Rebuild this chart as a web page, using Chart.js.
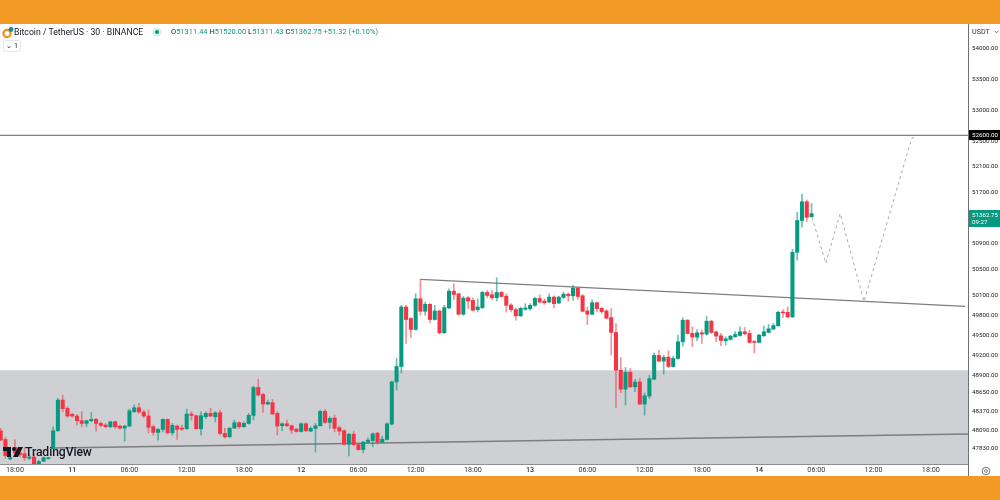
<!DOCTYPE html>
<html>
<head>
<meta charset="utf-8">
<title>Bitcoin / TetherUS</title>
<script src="https://cdn.jsdelivr.net/npm/chart.js@4/dist/chart.umd.min.js"></script>
<style>
  html, body { margin: 0; padding: 0; background: #fff; }
  #page { position: relative; width: 1000px; height: 500px; overflow: hidden; background: #fff; font-family: Roboto, sans-serif; }
  #page canvas { position: absolute; left: 0; top: 0; }
  .band { position: absolute; left: 0; width: 1000px; background: #f19a26; }
  .txt { position: absolute; white-space: nowrap; }
  #title { left: 14px; top: 26px; font-size: 8.7px; line-height: 12px; color: #131722; }
  #ohlc { left: 171px; top: 26px; font-size: 7.4px; line-height: 12px; color: #089981; letter-spacing: 0.05px; }
  #ohlc b { font-weight: 400; color: #131722; }
  #btn { left: 3px; top: 40px; width: 16px; height: 10px; border: 1px solid #e6e7ea; border-radius: 2px; font-size: 7px; line-height: 10px; text-align: center; color: #131722; }
  #usdt { left: 972px; top: 26px; font-size: 7.2px; line-height: 12px; color: #333; }
  #tv { left: 25px; top: 444px; font-size: 12.2px; line-height: 16px; font-weight: 500; color: #131722; letter-spacing: -0.1px; }
</style>
</head>
<body>
<div id="page">
  <canvas id="candleChart" width="1000" height="500"></canvas>
  <div class="band" style="top:0;height:24px"></div>
  <div class="band" style="top:476px;height:24px"></div>

  <svg class="txt" style="left:2px;top:26px" width="12" height="13">
    <circle cx="5" cy="7.5" r="3.6" fill="none" stroke="#f0901e" stroke-width="2.2"/>
    <circle cx="9" cy="3.5" r="2.4" fill="#1d8a93"/>
  </svg>
  <div class="txt" id="title">Bitcoin / TetherUS · 30 · BINANCE</div>
  <svg class="txt" style="left:152px;top:27px" width="10" height="10">
    <circle cx="5" cy="5" r="4.5" fill="#d5efe9"/>
    <circle cx="5" cy="5" r="2" fill="#089981"/>
  </svg>
  <div class="txt" id="ohlc"><b>O</b>51311.44 <b>H</b>51520.00 <b>L</b>51311.43 <b>C</b>51362.75 +51.32 (+0.10%)</div>
  <div class="txt" id="btn">⌄ 1</div>
  <div class="txt" id="usdt">USDT</div>
  <svg class="txt" style="left:994px;top:30px" width="5" height="4">
    <path d="M0.5 0.8 L2.5 2.8 L4.5 0.8" fill="none" stroke="#555" stroke-width="0.8"/>
  </svg>

  <svg class="txt" style="left:3px;top:446px" width="21" height="13">
    <path d="M0 1 H8 V11 H4 V5 H0 Z" fill="#131722"/>
    <circle cx="11" cy="3" r="2" fill="#131722"/>
    <path d="M15 1 H20 L15 11 H10 Z" fill="#131722"/>
  </svg>
  <div class="txt" id="tv">TradingView</div>

  <svg class="txt" style="left:981px;top:466px" width="10" height="10">
    <circle cx="5" cy="5" r="3.8" fill="none" stroke="#555" stroke-width="0.8"/>
    <circle cx="5" cy="5" r="1.4" fill="none" stroke="#555" stroke-width="0.7"/>
  </svg>
</div>

<script>
// candles, 30 minute bars. index 0 is the 18:00 bar of the 10th
const firstCandle = -3;
const opens = [
  48081, 47954, 47670, 47840, 47760, 47748, 47680, 47700, 47601, 47640,
  47675, 47822, 48081, 48532, 48410, 48321, 48297, 48228, 48189, 48228,
  48248, 48189, 48165, 48140, 48213, 48150, 48120, 48150, 48360, 48419,
  48356, 48297, 48140, 48057, 48101, 48248, 48052, 48150, 48116, 48111,
  48326, 48302, 48111, 48287, 48336, 48287, 48346, 48042, 47993, 48120,
  48199, 48140, 48189, 48307, 48718, 48615, 48473, 48493, 48336, 48155,
  48184, 48155, 48106, 48071, 48184, 48076, 48116, 48155, 48366, 48204,
  48268, 48125, 48081, 47885, 48032, 47880, 47807, 47915, 47939, 48047,
  47915, 47954, 48179, 48800, 49030, 49925, 49750, 49585, 50050, 49860,
  49965, 49735, 49865, 49535, 49910, 50166, 50125, 49815, 50065, 50025,
  49885, 49915, 50146, 50110, 50065, 50146, 50090, 49955, 49885, 49790,
  49890, 49900, 49950, 50055, 50015, 50000, 50075, 49985, 50070, 50120,
  50095, 50212, 50095, 49865, 49815, 49990, 49905, 49865, 49765, 49540,
  48975, 48694, 48944, 48728, 48800, 48473, 48591, 48840, 49195, 49110,
  49170, 49030, 49150, 49400, 49725, 49525, 49470, 49535, 49515, 49710,
  49550, 49490, 49415, 49435, 49475, 49495, 49550, 49525, 49400, 49390,
  49490, 49540, 49590, 49640, 49845, 49845, 49775, 50762, 51255, 51548, 51311.44,
];
const highs = [
  48116, 47983, 47700, 47954, 47790, 47836, 47730, 47740, 47650, 47700,
  47695, 48140, 48556, 48606, 48434, 48340, 48321, 48360, 48238, 48350,
  48262, 48213, 48189, 48223, 48223, 48160, 48160, 48400, 48458, 48483,
  48385, 48385, 48165, 48116, 48255, 48255, 48189, 48165, 48165, 48400,
  48360, 48312, 48360, 48360, 48410, 48360, 48385, 48116, 48125, 48238,
  48213, 48213, 48336, 48738, 48841, 48630, 48532, 48542, 48360, 48199,
  48238, 48165, 48116, 48199, 48199, 48140, 48189, 48385, 48395, 48287,
  48312, 48150, 48100, 48042, 48076, 47895, 47929, 47978, 48052, 48057,
  48003, 48199, 48815, 49155, 49950, 49950, 49765, 50125, 50346, 50000,
  49975, 49950, 49875, 49950, 50202, 50278, 50135, 50085, 50085, 50065,
  50050, 50165, 50176, 50176, 50370, 50165, 50125, 49975, 49910, 49925,
  49975, 49975, 50075, 50110, 50050, 50125, 50095, 50090, 50150, 50140,
  50253, 50225, 50115, 49925, 50035, 50000, 49915, 49885, 49900, 49675,
  49165, 49015, 49000, 48840, 48850, 48640, 48900, 49235, 49275, 49200,
  49265, 49185, 49500, 49760, 49735, 49625, 49585, 49575, 49785, 49725,
  49560, 49525, 49475, 49500, 49550, 49625, 49615, 49575, 49420, 49510,
  49635, 49660, 49675, 49860, 49885, 49925, 50808, 51383, 51670, 51578, 51520,
];
const lows = [
  47940, 47680, 47660, 47700, 47700, 47650, 47660, 47595, 47595, 47630,
  47670, 47815, 48075, 48360, 48277, 48280, 48165, 48140, 48140, 48213,
  48076, 48140, 48125, 48125, 48116, 48106, 47929, 48140, 48350, 48336,
  48277, 48052, 48017, 47944, 48066, 48032, 48017, 47954, 48081, 48101,
  48238, 48101, 48017, 48262, 48287, 48213, 48017, 47978, 47983, 48111,
  48116, 48130, 48179, 48238, 48591, 48350, 48468, 48326, 48017, 48081,
  48140, 48042, 48060, 48060, 48070, 48070, 47772, 48150, 48190, 48116,
  48066, 48017, 47871, 47714, 47861, 47797, 47758, 47895, 47846, 47885,
  47910, 47945, 48165, 48680, 48935, 49375, 49465, 49575, 49800, 49800,
  49685, 49725, 49515, 49525, 49895, 50035, 49800, 49800, 49900, 49865,
  49850, 49900, 50065, 50035, 50015, 50075, 49850, 49850, 49725, 49780,
  49875, 49875, 49935, 49985, 49965, 49990, 49910, 49975, 50055, 50010,
  50025, 50040, 49850, 49660, 49805, 49850, 49825, 49745, 49200, 48424,
  48640, 48458, 48718, 48655, 48465, 48311, 48556, 48835, 49100, 48915,
  49015, 49020, 49140, 49335, 49515, 49325, 49415, 49375, 49500, 49525,
  49400, 49340, 49350, 49425, 49465, 49485, 49505, 49380, 49235, 49385,
  49480, 49535, 49585, 49635, 49765, 49760, 49765, 50640, 51152, 51240, 51311.43,
];
const closes = [
  47944, 47720, 47690, 47760, 47730, 47689, 47700, 47601, 47635, 47689,
  47689, 48081, 48532, 48405, 48297, 48297, 48228, 48189, 48228, 48248,
  48189, 48160, 48140, 48213, 48140, 48120, 48150, 48375, 48419, 48356,
  48297, 48130, 48057, 48101, 48248, 48052, 48160, 48101, 48106, 48326,
  48307, 48111, 48302, 48336, 48297, 48346, 48042, 47993, 48120, 48199,
  48140, 48189, 48307, 48718, 48606, 48473, 48498, 48326, 48150, 48184,
  48155, 48091, 48071, 48184, 48081, 48116, 48155, 48366, 48204, 48262,
  48116, 48076, 47885, 48032, 47880, 47807, 47915, 47944, 48037, 47915,
  47959, 48184, 48800, 49030, 49925, 49735, 49585, 50050, 49860, 49965,
  49735, 49865, 49535, 49915, 50166, 50115, 49815, 50060, 50015, 49875,
  49925, 50146, 50100, 50065, 50146, 50085, 49950, 49885, 49790, 49905,
  49910, 49950, 50055, 50000, 49990, 50075, 49975, 50075, 50120, 50095,
  50212, 50085, 49860, 49815, 49990, 49900, 49855, 49755, 49540, 48975,
  48694, 48944, 48728, 48797, 48473, 48596, 48850, 49195, 49110, 49165,
  49030, 49150, 49400, 49725, 49525, 49470, 49535, 49515, 49710, 49540,
  49485, 49420, 49445, 49485, 49510, 49550, 49520, 49390, 49390, 49500,
  49550, 49595, 49645, 49845, 49835, 49775, 50762, 51255, 51548, 51305, 51362.75,
];

// axis ticks
const timeTicks = [0, 12, 24, 36, 48, 60, 72, 84, 96, 108, 120, 132, 144, 156, 168, 180, 192];
const timeLabels = ["18:00", "11", "06:00", "12:00", "18:00", "12", "06:00", "12:00", "18:00", "13", "06:00", "12:00", "18:00", "14", "06:00", "12:00", "18:00"];
const priceTicks = [54000, 53500, 53000, 52500, 52100, 51700, 51300, 50900, 50500, 50100, 49800, 49500, 49200, 48900, 48650, 48370, 48090, 47830];

// drawings on the chart
const xMin = -3.14;
const xMax = 199.8;
const zoneTop = 48975;
const resistance = 52600;
const lastPrice = 51362.75;
const upperTrendX = [85, 199.2];
const upperTrendY = [50346, 49935];
const lowerTrendX = [8.4, 199.8];
const lowerTrendY = [47830, 48034];
const forecastX = [167.1, 170, 173, 178, 188, 188.5];
const forecastY = [51301, 50593, 51363, 50010, 52553, 52565];

const greenColor = "#089981";
const redColor = "#f23645";
const candleIndex = opens.map((_, i) => firstCandle + i);
const isUp = opens.map((o, i) => closes[i] >= o);

// zips two lists into {x, y} points for the line datasets
const toPoints = (xs, ys) => xs.map((x, i) => ({ x: x, y: ys[i] }));

// date labels on the time axis are the heavier ones
const isDateTick = (value) => {
  const label = timeLabels[timeTicks.indexOf(value)];
  return label !== undefined && label.length < 3;
};

// price tags on the right axis and the bottom axis line end
const axisTags = {
  id: "axisTags",
  afterDraw(chart) {
    const c = chart.ctx;
    const y = chart.scales.y;
    const left = chart.chartArea.right;
    c.save();
    c.strokeStyle = "#6f7278";
    c.lineWidth = 1;
    c.beginPath();
    c.moveTo(left + 0.5, chart.chartArea.bottom);
    c.lineTo(left + 0.5, 476);
    c.stroke();

    c.textBaseline = "middle";
    c.textAlign = "left";
    c.font = "6.2px Roboto";

    const rY = Math.round(y.getPixelForValue(resistance));
    c.fillStyle = "#000";
    c.fillRect(left + 1, rY - 5, 31, 10);
    c.fillStyle = "#fff";
    c.fillText(resistance.toFixed(2), left + 4, rY + 0.5);

    const pY = Math.round(y.getPixelForValue(lastPrice));
    c.fillStyle = greenColor;
    c.fillRect(left + 1, pY - 4, 31, 17);
    c.fillStyle = "#fff";
    c.fillText(lastPrice.toFixed(2), left + 4, pY + 1);
    c.fillText("09:27", left + 4, pY + 8.5);
    c.restore();
  },
};

const ctx = document.getElementById("candleChart").getContext("2d");
new Chart(ctx, {
  type: "bar",
  data: {
    datasets: [
      {
        // candle bodies
        data: candleIndex.map((x, i) => ({ x: x, y: [opens[i], closes[i]] })),
        backgroundColor: isUp.map((up) => (up ? greenColor : redColor)),
        barThickness: 3.4,
        minBarLength: 1,
        grouped: false,
        order: 1,
      },
      {
        // wicks
        data: candleIndex.map((x, i) => ({ x: x, y: [lows[i], highs[i]] })),
        backgroundColor: isUp.map((up) => (up ? "rgba(8,153,129,0.6)" : "rgba(242,54,69,0.55)")),
        barThickness: 1,
        grouped: false,
        order: 2,
      },
      {
        type: "line",
        data: toPoints(upperTrendX, upperTrendY),
        borderColor: "#7b7d82",
        borderWidth: 1.4,
        pointRadius: 0,
        order: 5,
      },
      {
        type: "line",
        data: toPoints(lowerTrendX, lowerTrendY),
        borderColor: "#7b7d82",
        borderWidth: 1.4,
        pointRadius: 0,
        order: 5,
      },
      {
        type: "line",
        data: toPoints([xMin, xMax], [resistance, resistance]),
        borderColor: "#5b5d62",
        borderWidth: 1,
        pointRadius: 0,
        order: 5,
      },
      {
        // the projected move
        type: "line",
        data: toPoints(forecastX, forecastY),
        borderColor: "#a9abaf",
        borderWidth: 1,
        borderDash: [3, 3],
        pointRadius: 0,
        order: 4,
      },
      {
        // grey zone at the bottom
        type: "line",
        data: toPoints([xMin, xMax], [zoneTop, zoneTop]),
        borderWidth: 0,
        pointRadius: 0,
        fill: "start",
        backgroundColor: "#cfd0d4",
        order: 10,
      },
    ],
  },
  options: {
    responsive: false,
    animation: false,
    layout: { padding: { top: 24, bottom: 24, left: 0, right: 0 } },
    plugins: {
      legend: { display: false },
      tooltip: { enabled: false },
    },
    scales: {
      x: {
        type: "linear",
        min: xMin,
        max: xMax,
        offset: false,
        grid: { display: false, drawTicks: false },
        border: { display: true, color: "#8d8f94", width: 1 },
        afterBuildTicks: (scale) => {
          scale.ticks = timeTicks.map((v) => ({ value: v }));
        },
        afterFit: (scale) => {
          scale.height = 12;
        },
        ticks: {
          autoSkip: false,
          maxRotation: 0,
          padding: 2,
          color: "#333",
          font: (c) => ({
            family: "Roboto",
            size: 7.2,
            weight: c.tick && isDateTick(c.tick.value) ? "500" : "400",
          }),
          callback: (v) => timeLabels[timeTicks.indexOf(v)],
        },
      },
      y: {
        type: "logarithmic",
        position: "right",
        min: 47598,
        max: 54410,
        grid: { display: false, drawTicks: false },
        border: { display: true, color: "#6f7278", width: 1 },
        afterBuildTicks: (scale) => {
          scale.ticks = priceTicks.map((v) => ({ value: v }));
        },
        afterFit: (scale) => {
          scale.width = 32;
        },
        ticks: {
          autoSkip: false,
          padding: 4,
          color: "#222",
          font: { family: "Roboto", size: 6.2 },
          callback: (v) => Number(v).toFixed(2),
        },
      },
    },
  },
  plugins: [axisTags],
});
</script>
</body>
</html>
